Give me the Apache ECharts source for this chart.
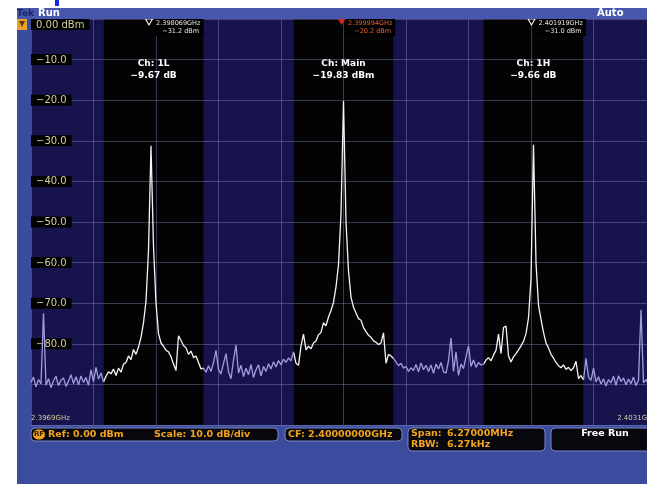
<!DOCTYPE html>
<html>
<head>
<meta charset="utf-8">
<script src="https://cdn.jsdelivr.net/npm/echarts@6/dist/echarts.min.js"></script>
<style>
html, body { margin: 0; padding: 0; background: #fff; }
#main { width: 647px; height: 484px; }
</style>
</head>
<body>
<div id="main"></div>
<script>
// trace in dBm, one sample every span/250 starting at CF - span/2
const floorLeft = [-89.5, -88.2, -90.6, -88.8, -89.9, -72.5, -90.2, -88.6, -90.8, -89.1, -88.0, -90.3, -89.0, -88.4, -90.5,
  -89.2, -87.6, -89.8, -88.1, -90.1, -87.9, -89.5, -88.3, -90.2, -86.4, -89.3, -85.8, -88.7, -87.2, -89.4];
const chan1L = [-88.0, -86.9, -87.4, -86.2, -87.8, -86.0, -87.0, -85.0, -84.6, -83.0, -83.9, -81.4, -82.6, -80.8, -78.4,
  -74.8, -69.5, -57.0, -31.2, -56.0, -70.0, -77.5, -79.8, -80.6, -81.6, -82.0, -83.2, -85.0, -86.6, -78.0, -79.2, -80.4,
  -81.0, -82.6, -81.8, -83.4, -83.0, -84.6, -86.2];
const gapLeft = [-86.0, -87.0, -85.4, -86.8, -84.6, -81.6, -86.3, -87.4, -84.8, -82.4, -86.9, -88.6, -84.0, -80.3, -87.2,
  -85.3, -88.1, -86.0, -87.6, -85.1, -88.3, -86.4, -85.2, -87.9, -85.6, -86.8, -84.9, -86.2, -84.4, -85.7, -84.1, -85.2,
  -83.8, -84.6, -83.5, -84.2];
const chanMain = [-82.0, -84.8, -85.3, -80.5, -77.6, -81.5, -80.6, -81.2, -79.8, -79.3, -77.8, -77.2, -74.8, -75.6, -73.4,
  -71.8, -69.8, -66.0, -60.5, -48.0, -20.2, -50.0, -62.0, -68.5, -71.0, -72.4, -73.8, -74.2, -76.0, -77.0, -77.9, -78.4,
  -79.3, -79.6, -80.2, -79.8, -77.3, -84.8, -82.6, -83.0, -83.6];
const gapRight = [-84.5, -85.4, -84.8, -86.0, -85.6, -86.8, -85.9, -86.6, -85.1, -86.9, -84.7, -86.4, -85.3, -86.8, -85.2,
  -87.3, -85.0, -86.2, -84.6, -86.9, -87.2, -84.2, -78.6, -86.8, -82.0, -87.8, -85.0, -86.1, -83.2, -80.5, -85.6, -84.0,
  -85.8, -84.6, -85.2];
const chan1H = [-85.0, -84.0, -83.4, -84.2, -82.8, -81.6, -77.6, -82.4, -76.0, -75.6, -83.0, -84.5, -83.2, -82.4, -81.5,
  -80.5, -79.4, -77.5, -73.6, -64.0, -31.0, -60.0, -70.5, -74.0, -77.2, -79.8, -81.0, -82.6, -83.5, -84.6, -85.4, -85.9,
  -85.2, -86.3, -85.8, -86.6, -85.9, -84.3, -88.6, -87.8];
const floorRight = [-88.9, -83.6, -88.2, -89.0, -86.0, -89.4, -88.1, -89.9, -88.6, -90.4, -88.8, -89.6, -88.0, -90.2, -87.9,
  -89.3, -88.4, -90.1, -88.7, -89.8, -88.2, -90.3, -89.0, -71.6, -89.6, -88.8, -90.0, -88.9, -89.7, -88.5];

const channelNames = ['1L', 'Main', '1H'];
const channelCenters = [-1905, 0, 1905];   // kHz from CF
const channelWidth = 1000;                 // kHz
const channelPowers = ['\u22129.67 dB', '\u221219.83 dBm', '\u22129.66 dB'];
const markerFreqs = ['2.398069GHz', '2.399994GHz', '2.401919GHz'];

const cfKHz = 2400000;
const spanKHz = 6270;
const startKHz = -spanKHz / 2;
const stepKHz = spanKHz / 250;

const trace = [].concat(floorLeft, chan1L, gapLeft, chanMain, gapRight, chan1H, floorRight);
const traceData = trace.map((v, i) => [startKHz + i * stepKHz, v]);

const minus = s => String(s).replace('-', '\u2212');

// peak of every channel, used for the markers
const peaks = channelCenters.map(c => {
  let best = null;
  traceData.forEach(p => {
    if (Math.abs(p[0] - c) <= channelWidth / 2 && (!best || p[1] > best[1])) best = p;
  });
  return best;
});

let myChart = echarts.init(document.getElementById('main'));

const txt = (x, y, text, fill, font, align) => ({
  type: 'text', x: x, y: y, z: 10,
  style: { text: text, fill: fill, font: font, align: align || 'left', verticalAlign: 'middle' }
});
const box = (x, y, w, h) => ({
  type: 'rect', z: 9, shape: { x: x, y: y, width: w, height: h, r: 4 },
  style: { fill: '#07070d', stroke: '#7d88c4', lineWidth: 1 }
});
const orange = '#f2a41c';
const stFont = 'bold 9.5px "DejaVu Sans"';

let option = {
  backgroundColor: '#3b4b9d',
  animation: false,
  grid: {
    left: 31, top: 19, width: 625, height: 406, outerBoundsMode: 'none',
    show: true, backgroundColor: '#17144d', borderWidth: 0
  },
  xAxis: {
    type: 'value', min: startKHz, max: -startKHz, interval: spanKHz / 10, z: 2,
    axisLine: { show: false }, axisTick: { show: false },
    splitLine: { lineStyle: { color: 'rgba(150,150,200,0.38)', width: 1 } },
    axisLabel: {
      inside: true, margin: 3, color: '#d4cc9c', fontSize: 7, fontFamily: 'DejaVu Sans',
      alignMinLabel: 'left', alignMaxLabel: 'right',
      formatter: v => (v === startKHz || v === -startKHz) ? ((cfKHz + v) / 1e6).toFixed(4) + 'GHz' : ''
    }
  },
  yAxis: {
    type: 'value', min: -100, max: 0, interval: 10, z: 2,
    axisLine: { show: false }, axisTick: { show: false },
    splitLine: { lineStyle: { color: 'rgba(150,150,200,0.38)', width: 1 } },
    axisLabel: {
      inside: true, margin: 0, verticalAlignMaxLabel: 'top',
      formatter: v => v === 0 ? '{b|0.00 dBm}' : (v < -80 ? '' : '{b|' + minus(v.toFixed(1)) + '}'),
      rich: {
        b: { color: '#d4cc9c', fontSize: 10, fontFamily: 'DejaVu Sans', backgroundColor: '#000', padding: [1, 5, 0, 5] }
      }
    }
  },
  visualMap: {
    type: 'piecewise', show: false, dimension: 0, seriesIndex: 1,
    pieces: channelCenters.map(c => ({ gte: c - channelWidth / 2, lte: c + channelWidth / 2, color: '#f4f4f4' })),
    outOfRange: { color: '#a29ce0' }
  },
  series: [
    {
      type: 'line', z: 1, silent: true, symbol: 'none',
      data: [[startKHz, -100], [-startKHz, -100]],
      lineStyle: { opacity: 0 },
      markArea: {
        silent: true,
        data: channelCenters.map((c, k) => [
          {
            xAxis: c - channelWidth / 2, yAxis: 0, itemStyle: { color: '#030305' },
            label: {
              show: true, position: 'insideTop', distance: 39,
              formatter: 'Ch: ' + channelNames[k] + '\n' + channelPowers[k],
              color: '#fff', fontSize: 9, fontWeight: 'bold', fontFamily: 'DejaVu Sans', lineHeight: 12, align: 'center'
            }
          },
          { xAxis: c + channelWidth / 2, yAxis: -100 }
        ])
      }
    },
    {
      type: 'line', z: 3, symbol: 'none', data: traceData,
      lineStyle: { width: 1.3 },
      markPoint: {
        silent: true,
        data: peaks.map((p, k) => ({
          coord: [p[0], 0],
          symbol: 'triangle', symbolRotate: 180, symbolSize: [7, 6], symbolOffset: [-2, 3],
          itemStyle: k === 1 ? { color: '#e0261a' } : { color: '#000', borderColor: '#fff', borderWidth: 1 },
          label: {
            show: true, position: 'right', distance: 1, offset: [0, 5],
            formatter: markerFreqs[k] + '\n   ' + minus(p[1].toFixed(1)) + ' dBm',
            color: k === 1 ? '#e8602c' : '#e6e6e6', fontSize: 6.5, lineHeight: 8,
            fontFamily: 'DejaVu Sans', backgroundColor: '#000', padding: [1, 3, 1, 2]
          }
        }))
      }
    }
  ],
  graphic: [
    { type: 'rect', z: 8, shape: { x: 0, y: 0, width: 647, height: 8 }, style: { fill: '#fff' } },
    { type: 'rect', z: 8, shape: { x: 0, y: 0, width: 17, height: 484 }, style: { fill: '#fff' } },
    { type: 'rect', z: 9, shape: { x: 55, y: 0, width: 4, height: 6 }, style: { fill: '#1428e6' } },
    { type: 'rect', z: 9, shape: { x: 17, y: 8, width: 630, height: 11 }, style: { fill: '#4657ad' } },
    txt(17, 13.5, 'Tek', '#1b2466', 'bold 9px "DejaVu Sans"'),
    txt(38, 13.5, 'Run', '#fff', 'bold 10px "DejaVu Sans"'),
    txt(597, 13.5, 'Auto', '#fff', 'bold 10px "DejaVu Sans"'),
    { type: 'rect', z: 9, shape: { x: 17, y: 19, width: 10, height: 11 }, style: { fill: '#e9a32a' } },
    { type: 'polygon', z: 10, shape: { points: [[19, 21], [25, 21], [22, 27]] }, style: { fill: '#5a3a10' } },
    box(31, 428, 247, 13),
    { type: 'rect', z: 10, shape: { x: 33, y: 429.5, width: 12, height: 10, r: 5 }, style: { fill: orange } },
    txt(39, 434.5, 'RF', '#3a2400', 'bold 7px "DejaVu Sans"', 'center'),
    txt(48, 434.5, 'Ref: 0.00 dBm', orange, stFont),
    txt(154, 434.5, 'Scale: 10.0 dB/div', orange, stFont),
    box(285, 428, 117, 13),
    txt(288, 434.5, 'CF: 2.40000000GHz', orange, stFont),
    box(408, 428, 137, 23),
    txt(411, 434, 'Span:', orange, stFont),
    txt(447, 434, '6.27000MHz', orange, stFont),
    txt(411, 445, 'RBW:', orange, stFont),
    txt(447, 445, '6.27kHz', orange, stFont),
    box(551, 428, 100, 23),
    txt(605, 434, 'Free Run', '#fff', stFont, 'center')
  ]
};
myChart.setOption(option);
</script>
</body>
</html>
